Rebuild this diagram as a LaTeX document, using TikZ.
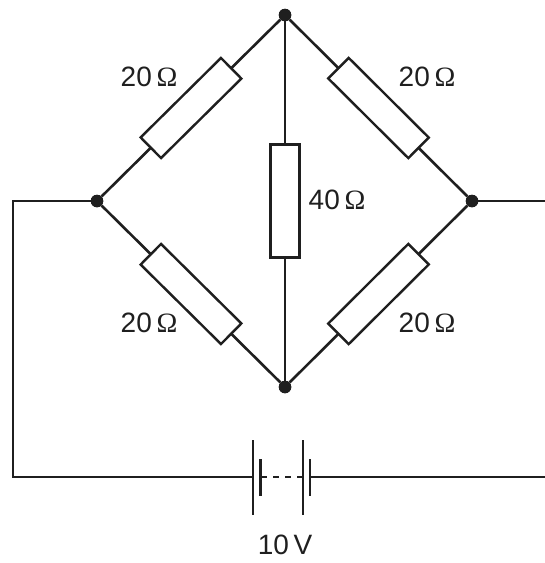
\documentclass[tikz,border=0pt]{standalone}
\usepackage{fontspec}
\setmainfont{Liberation Sans}
\newfontfamily\omfont{Liberation Serif}
\newcommand{\ohm}{{\omfont Ω}}
\begin{document}
\begin{tikzpicture}[x=1pt,y=-1pt,
  wire/.style={line width=2.6pt, draw=black!88},
  res/.style={draw=black!88, line width=2.4pt, fill=white, rectangle, minimum width=113pt, minimum height=29pt, inner sep=0pt},
  dot/.style={circle, fill=black!88, minimum size=12.5pt, inner sep=0pt},
  lbl/.style={font=\fontsize{28}{32}\selectfont, inner sep=0pt, text=black!88}]
\useasboundingbox (0,0) rectangle (545,563);
\node[dot] (T) at (285,15) {};
\node[dot] (B) at (285,387) {};
\node[dot] (L) at (97,201) {};
\node[dot] (R) at (472,201) {};
\coordinate (LC) at (13,201);
\coordinate (LB) at (13,477);
\coordinate (RC) at (545,201);
\coordinate (RB) at (545,477);
\coordinate (BL) at (253,477);
\coordinate (BR) at (310,477);
% resistors
\draw[wire] (L) -- node[res,sloped] (R1) {} (T);
\draw[wire] (T) -- node[res,sloped] (R2) {} (R);
\draw[wire] (L) -- node[res,sloped] (R3) {} (B);
\draw[wire] (B) -- node[res,sloped] (R4) {} (R);
\draw[wire] (T) -- node[res,sloped] (R5) {} (B);
\node[dot] at (T) {};
\node[dot] at (B) {};
\node[dot] at (L) {};
\node[dot] at (R) {};
% outer wires
\draw[wire] (L) -- (LC) -- (LB) -- (BL);
\draw[wire] (R) -- (RC);
\draw[wire] (BR) -- (RB);
% battery
\draw[wire] (BL) ++(0,-37) -- ++(0,75);
\draw[wire] (BL) ++(7.5,-18) -- ++(0,37);
\draw[wire] (BR) ++(-7,-37) -- ++(0,75);
\draw[wire] (BR) ++(0,-18) -- ++(0,37);
\draw[wire, dash pattern=on 6pt off 6pt] (261,477) -- (303,477);
% labels
\node[lbl] (t1) at (149,77) {20\,\ohm};
\node[lbl] (t2) at (427,77) {20\,\ohm};
\node[lbl] (t3) at (337,200) {40\,\ohm};
\node[lbl] (t4) at (149,323) {20\,\ohm};
\node[lbl] (t5) at (427,323) {20\,\ohm};
\node[lbl] (t6) at (285,545) {10\,V};
\end{tikzpicture}
\end{document}
